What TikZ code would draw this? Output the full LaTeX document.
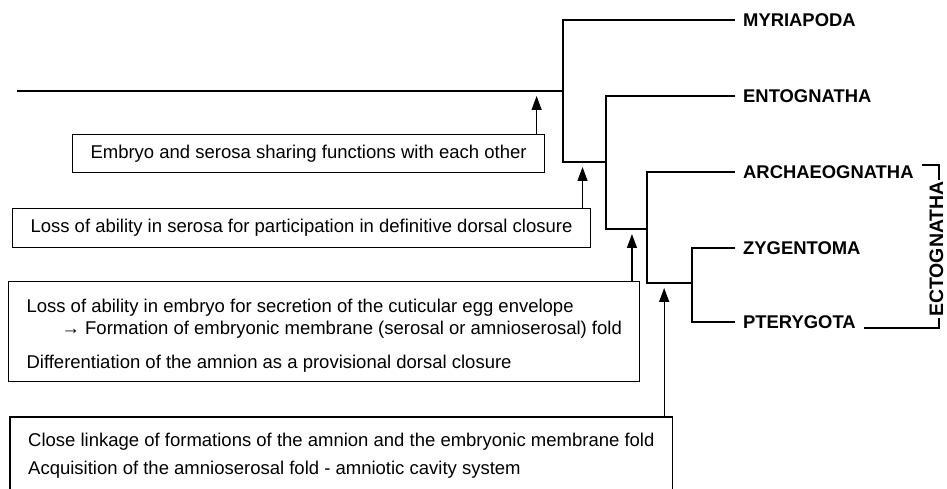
\documentclass[tikz,border=0pt]{standalone}
\usepackage{fontspec}
\setmainfont{Liberation Sans}
\usetikzlibrary{arrows.meta,positioning,calc}
\newcommand{\boxfont}{\fontsize{18.5bp}{22bp}\selectfont}
\newcommand{\taxfont}{\fontsize{18.4bp}{20bp}\selectfont\bfseries}
\tikzset{
  branch/.style  = {line width=2.2bp},
  evo/.style     = {-{Triangle[length=14bp,width=10bp]}, line width=1.3bp},
  taxon/.style   = {anchor=west, inner xsep=8bp, inner ysep=2bp, font=\taxfont},
  box/.style     = {draw, line width=1.1bp, anchor=north west, align=left,
                    inner xsep=18bp, font=\boxfont},
  boxtext/.style = {anchor=north west, align=left, inner xsep=18bp,
                    inner ysep=16bp, font=\boxfont},
  frame/.style   = {line width=1.1bp},
  brk/.style     = {line width=1.3bp},
  ectolab/.style = {rotate=90, fill=white, inner sep=1bp,
                    font=\fontsize{19.5bp}{20bp}\selectfont\bfseries},
}
\begin{document}
\begin{tikzpicture}[x=1bp,y=-1bp]
  \useasboundingbox (0,0) rectangle (947,489);

  % terminal taxa
  \node[taxon] (myr) at (735,20)  {MYRIAPODA};
  \node[taxon] (ent) at (735,96)  {ENTOGNATHA};
  \node[taxon] (arc) at (735,172) {ARCHAEOGNATHA};
  \node[taxon] (zyg) at (735,248) {ZYGENTOMA};
  \node[taxon] (pte) at (735,322) {PTERYGOTA};

  % tree
  \coordinate (root) at (17,91);
  \coordinate (c1) at (563,162);
  \coordinate (c2) at (606,229);
  \coordinate (c3) at (647,283);
  \coordinate (c4) at (692,283);
  \draw[branch] (root) -- (root -| c1);
  \draw[branch] (myr.west) -| (c1) -- (c1 -| c2);
  \draw[branch] (ent.west) -| (c2) -- (c2 -| c3);
  \draw[branch] (arc.west) -| (c3) -- (c4);
  \draw[branch] (zyg.west) -| (c4) |- (pte.west);

  % Ectognatha bracket
  \coordinate (etop) at (939,165);
  \coordinate (ebot) at (939,328);
  \draw[brk] (etop -| arc.east) -- (etop) -- (ebot) -- (ebot -| pte.east);
  \node[ectolab] (ecto) at (936.5,249) {ECTOGNATHA};

  % character boxes
  \node[box, minimum height=38bp] (b1) at (72,134)
    {Embryo and serosa sharing functions with each other};
  \node[box, minimum height=39bp] (b2) at (12,208)
    {Loss of ability in serosa for participation in definitive dorsal closure};
  \node[box, minimum height=100bp] (b3) at (8,281)
    {\rule{0pt}{21.5bp}Loss of ability in embryo for secretion of the cuticular egg envelope\\
     \hspace*{35bp}→ Formation of embryonic membrane (serosal or amnioserosal) fold\\[12bp]
     Differentiation of the amnion as a provisional dorsal closure};
  \node[boxtext] (b4) at (10,417)
    {Close linkage of formations of the amnion and the embryonic membrane fold\\[6bp]
     Acquisition of the amnioserosal fold - amniotic cavity system};
  \draw[frame] (b4.north west) rectangle ([yshift=-30bp]b4.south east);

  % apomorphy arrows
  \foreach \bx/\cl in {b1/root, b2/c1, b3/c2, b4/c3}
    \draw[evo] ($(\bx.north east)+(-8.5,0)$) -- ($(\bx.north east |- \cl)+(-8.5,5)$);
\end{tikzpicture}
\end{document}
